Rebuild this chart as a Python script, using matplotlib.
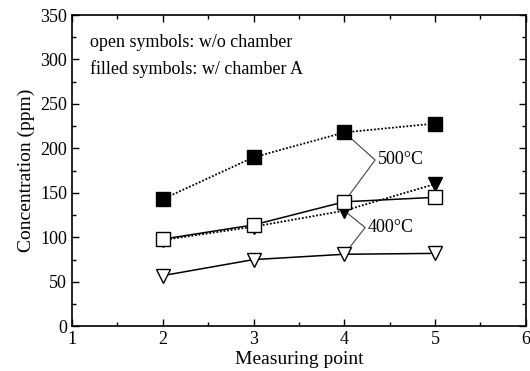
import matplotlib
matplotlib.use("Agg")
import matplotlib.pyplot as plt
from matplotlib.ticker import MultipleLocator

plt.rcParams['font.family'] = ['Liberation Serif', 'DejaVu Serif']

points = [2, 3, 4, 5]
sq_filled = [143, 190, 218, 228]   # 500°C, w/ chamber A
sq_open = [98, 114, 140, 145]      # 500°C, w/o chamber
tri_filled = [97, 112, 130, 160]   # 400°C, w/ chamber A
tri_open = [57, 75, 81, 82]        # 400°C, w/o chamber

fig = plt.figure(figsize=(5.3, 3.71), dpi=100)
ax = fig.add_axes([0.136, 0.1205, 0.856, 0.839])

ms = 9.5
ax.plot(points, sq_filled, ls=(0, (1, 1.0)), color='black', lw=1.3,
        marker='s', ms=ms, mfc='black', mec='black', zorder=3)
ax.plot(points, tri_filled, ls=(0, (1, 1.0)), color='black', lw=1.3,
        marker='v', ms=ms, mfc='black', mec='black', zorder=3)
ax.plot(points, sq_open, ls='-', color='black', lw=1.1,
        marker='s', ms=ms, mfc='white', mec='black', mew=1.0, zorder=4)
ax.plot(points, tri_open, ls='-', color='black', lw=1.1,
        marker='v', ms=ms, mfc='white', mec='black', mew=1.0, zorder=4)

# bracket annotations
v5 = (4.34, 187)
ax.plot([points[2], v5[0], points[2]], [sq_filled[2], v5[1], sq_open[2]],
        color='#444444', lw=0.8, zorder=2)
ax.text(4.37, 187, '500°C', fontsize=13, va='center', ha='left')
v4 = (4.23, 111)
ax.plot([points[2], v4[0], points[2]], [tri_filled[2], v4[1], tri_open[2]],
        color='#444444', lw=0.8, zorder=2)
ax.text(4.26, 111, '400°C', fontsize=13, va='center', ha='left')

ax.text(1.2, 319, 'open symbols: w/o chamber', fontsize=13, va='center')
ax.text(1.2, 289, 'filled symbols: w/ chamber A', fontsize=13, va='center')

ax.set_xlim(1, 6)
ax.set_ylim(0, 350)
ax.xaxis.set_major_locator(MultipleLocator(1))
ax.xaxis.set_minor_locator(MultipleLocator(0.5))
ax.yaxis.set_major_locator(MultipleLocator(50))
ax.yaxis.set_minor_locator(MultipleLocator(25))
ax.tick_params(which='both', direction='in', top=True, right=True, labelsize=13)
ax.tick_params(which='major', length=5, width=1)
ax.tick_params(which='minor', length=3, width=1)
for s in ax.spines.values():
    s.set_linewidth(1.2)

ax.set_xlabel('Measuring point', fontsize=14, labelpad=2)
ax.set_ylabel('Concentration (ppm)', fontsize=14, labelpad=4)

fig.savefig('out.png', dpi=100)
